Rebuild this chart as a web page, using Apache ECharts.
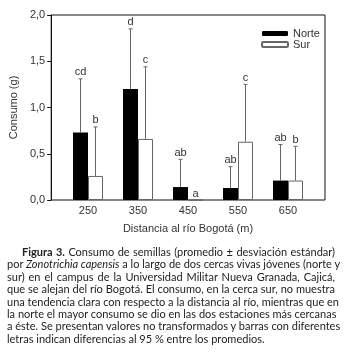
<!DOCTYPE html>
<html>
<head>
<meta charset="utf-8">
<script src="https://cdn.jsdelivr.net/npm/echarts@6/dist/echarts.min.js"></script>
<style>
  html, body { margin: 0; padding: 0; background: #fff; }
  #chart { position: absolute; left: 0; top: 0; width: 345px; height: 357px; }
  #caption {
    position: absolute; left: 7px; top: 246px; width: 328px;
    font-family: Lato, 'Open Sans', sans-serif; font-size: 11px; color: #222;
  }
  #caption .ln {
    height: 12.4px; line-height: 12.4px; white-space: nowrap;
    text-align: justify; text-align-last: justify;
  }
  #caption .ln.last { text-align-last: left; }
  #caption .ln.first { padding-left: 15px; }
</style>
</head>
<body>
<div id="chart"></div>
<div id="caption">
  <div class="ln first"><b>Figura 3.</b> Consumo de semillas (promedio ± desviación estándar)</div>
  <div class="ln">por <i>Zonotrichia capensis</i> a lo largo de dos cercas vivas jóvenes (norte y</div>
  <div class="ln">sur) en el campus de la Universidad Militar Nueva Granada, Cajicá,</div>
  <div class="ln">que se alejan del río Bogotá. El consumo, en la cerca sur, no muestra</div>
  <div class="ln">una tendencia clara con respecto a la distancia al río, mientras que en</div>
  <div class="ln">la norte el mayor consumo se dio en las dos estaciones más cercanas</div>
  <div class="ln">a éste. Se presentan valores no transformados y barras con diferentes</div>
  <div class="ln last">letras indican diferencias al 95 % entre los promedios.</div>
</div>
<script>
// distancias al río (m)
const categories = ['250', '350', '450', '550', '650']
// consumo promedio (g)
const norteMean = [0.73, 1.2, 0.14, 0.13, 0.21]
const surMean = [0.26, 0.66, 0, 0.63, 0.21]
// desviación estándar (solo hacia arriba)
const norteSd = [0.58, 0.65, 0.3, 0.23, 0.39]
const surSd = [0.53, 0.78, 0, 0.62, 0.37]
// letras de diferencias
const norteLetters = ['cd', 'd', 'ab', 'ab', 'ab']
const surLetters = ['b', 'c', 'a', 'c', 'b']

const BAR_W = 15
const FONT = "'Liberation Sans', Arial, sans-serif"

function errorSeries(name, means, sds, letters, side) {
  return {
    name: name + '_err',
    type: 'custom',
    xAxisIndex: 1,
    yAxisIndex: 1,
    z: 5,
    data: means.map((m, i) => [i, m, sds[i]]),
    renderItem: function (params, api) {
      let i = api.value(0)
      let mean = api.value(1)
      let sd = api.value(2)
      let base = api.coord([i, mean])
      let top = api.coord([i, mean + sd])
      let x = base[0] + side * BAR_W / 2
      let children = []
      if (sd > 0) {
        children.push({
          type: 'line',
          shape: { x1: x, y1: base[1], x2: x, y2: top[1] },
          style: { stroke: '#666', lineWidth: 1 },
        })
        children.push({
          type: 'line',
          shape: { x1: x - 2, y1: top[1], x2: x + 2, y2: top[1] },
          style: { stroke: '#666', lineWidth: 1 },
        })
      }
      children.push({
        type: 'text',
        x: x,
        y: top[1] - 1,
        style: {
          text: letters[i],
          fill: '#333',
          font: '11px ' + FONT,
          align: 'center',
          verticalAlign: 'bottom',
        },
      })
      return { type: 'group', children: children }
    },
  }
}

const chart = echarts.init(document.getElementById('chart'))
const option = {
  animation: false,
  textStyle: { fontFamily: FONT, color: '#333' },
  grid: [
    { left: 49, right: 20, top: 15, bottom: 157, show: true, borderColor: '#111', borderWidth: 1 },
    { left: 63, right: 32, top: 15, bottom: 157 },
  ],
  legend: {
    orient: 'vertical',
    left: 256,
    top: 23,
    itemWidth: 26,
    itemHeight: 5,
    itemGap: 0,
    textStyle: { fontSize: 11, color: '#333' },
    data: ['Norte', 'Sur'],
  },
  xAxis: [
    { type: 'value', gridIndex: 0, show: false, min: 0, max: 1 },
    {
      type: 'category',
      gridIndex: 1,
      data: categories,
      axisLine: { show: false },
      axisTick: { show: false },
      axisLabel: { fontSize: 11, color: '#333', margin: 5 },
      name: 'Distancia al río Bogotá (m)',
      nameLocation: 'middle',
      nameGap: 23,
      nameTextStyle: { fontSize: 11, color: '#333' },
    },
  ],
  yAxis: [
    {
      type: 'value',
      gridIndex: 0,
      min: 0,
      max: 2,
      interval: 0.5,
      axisLine: { show: true, lineStyle: { color: '#111' } },
      axisTick: { show: true, length: 4, lineStyle: { color: '#111' } },
      splitLine: { show: false },
      axisLabel: {
        fontSize: 11,
        color: '#333',
        margin: 6,
        formatter: (v) => v.toFixed(1).replace('.', ','),
      },
      name: 'Consumo (g)',
      nameLocation: 'middle',
      nameRotate: 90,
      nameGap: 29,
      nameTextStyle: { fontSize: 11, color: '#333' },
    },
    { type: 'value', gridIndex: 1, min: 0, max: 2, show: false },
  ],
  series: [
    {
      name: 'Norte',
      type: 'bar',
      xAxisIndex: 1,
      yAxisIndex: 1,
      barWidth: BAR_W,
      barGap: 0,
      itemStyle: { color: '#000' },
      data: norteMean,
    },
    {
      name: 'Sur',
      type: 'bar',
      xAxisIndex: 1,
      yAxisIndex: 1,
      barWidth: BAR_W,
      barGap: 0,
      itemStyle: { color: '#fff', borderColor: '#666', borderWidth: 1 },
      data: surMean,
    },
    errorSeries('Norte', norteMean, norteSd, norteLetters, -1),
    errorSeries('Sur', surMean, surSd, surLetters, 1),
  ],
}
chart.setOption(option)
</script>
</body>
</html>
